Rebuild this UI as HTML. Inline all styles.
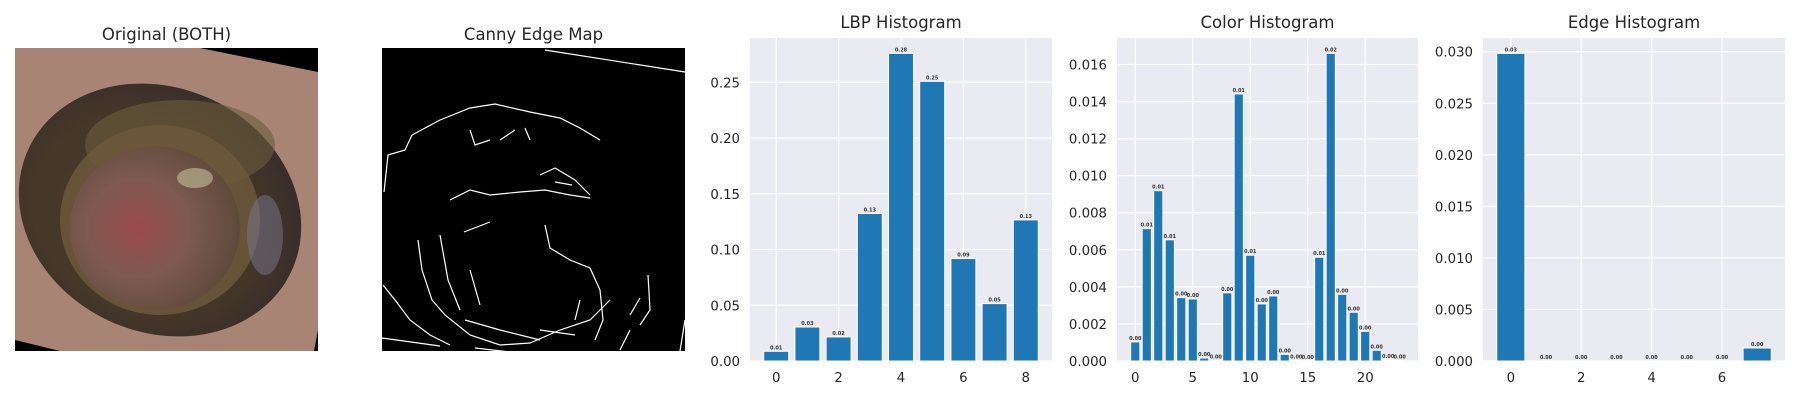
<!DOCTYPE html>
<html><head><meta charset="utf-8">
<style>
html,body{margin:0;padding:0;background:#fff;}
body{width:1800px;height:400px;overflow:hidden;font-family:"DejaVu Sans","Liberation Sans",sans-serif;}
svg text{font-family:"DejaVu Sans","Liberation Sans",sans-serif;}
</style></head>
<body>
<svg id="fig" width="1800" height="400" viewBox="0 0 1800 400" xmlns="http://www.w3.org/2000/svg">
<defs>
<radialGradient id="woundOuter" cx="0.45" cy="0.55" r="0.55">
<stop offset="0" stop-color="#4a3a2e"/><stop offset="0.7" stop-color="#453828"/><stop offset="1" stop-color="#3a2e2a"/>
</radialGradient>
<radialGradient id="woundInner" cx="0.4" cy="0.5" r="0.6">
<stop offset="0" stop-color="#9a4a4c"/><stop offset="0.5" stop-color="#7e5a50"/><stop offset="1" stop-color="#5e4a3a"/>
</radialGradient>
</defs>
<g>
<text x="166.5" y="40" font-size="16.5" fill="#262626" text-anchor="middle">Original (BOTH)</text>
<rect x="15" y="48" width="303" height="303" fill="#a88474"/>
<polygon points="200,48 318,48 318,72" fill="#000"/>
<polygon points="15,340 15,351 60,351" fill="#000"/>
<polygon points="314,351 318,351 318,330" fill="#000"/>
<ellipse cx="160" cy="210" rx="145" ry="122" fill="url(#woundOuter)" transform="rotate(25 160 210)"/>
<ellipse cx="180" cy="145" rx="95" ry="45" fill="#6a5e3c" opacity="0.6"/>
<ellipse cx="160" cy="220" rx="100" ry="95" fill="#6e5a3c" opacity="0.8"/>
<ellipse cx="155" cy="228" rx="85" ry="82" fill="url(#woundInner)"/>
<ellipse cx="195" cy="178" rx="18" ry="10" fill="#b8b090" opacity="0.7"/>
<ellipse cx="265" cy="235" rx="18" ry="40" fill="#7a7890" opacity="0.5"/>
</g>
<g>
<text x="533.5" y="40" font-size="16.5" fill="#262626" text-anchor="middle">Canny Edge Map</text>
<rect x="382" y="48" width="303" height="303" fill="#000"/>
<g fill="none" stroke="#fff" stroke-width="1.2">
<path d="M545,50 L685,72"/>
<path d="M382,338 L440,346"/>
<path d="M685,320 L680,351"/>
<path d="M384,192 L388,155 L405,150 L412,135 L440,120 L470,108 L495,104 L530,112 L560,118 L580,128 L600,140"/>
<path d="M470,130 L475,145 L490,140 M500,140 L515,130 M525,128 L530,140"/>
<path d="M450,200 L470,190 L490,195 L520,192 L545,190 L570,195 L590,198"/>
<path d="M540,175 L555,168 L575,180 L590,195 M555,182 L572,185"/>
<path d="M464,232 L490,222 M545,225 L550,248 L570,260 L590,268 L600,290 L603,320 L595,340"/>
<path d="M418,240 L422,270 L432,300 L445,315 L470,335 L500,345 L530,343 L560,330 L590,320 L610,300"/>
<path d="M440,235 L448,280 L460,310 M470,270 L480,305"/>
<path d="M465,320 L500,330 L540,340 M475,348 L510,352 M540,330 L575,335"/>
<path d="M383,285 L395,300 L410,320 L430,335 L450,345"/>
<path d="M648,275 L650,310 L640,325 M630,330 L620,350"/>
<path d="M640,298 L630,315 M580,300 L575,320"/>
</g>
</g>
<g id="charts"></g>
</svg>
<script>
// LBP histogram data
const lbpCategories = [0,1,2,3,4,5,6,7,8];
const lbpValues = [0.0087,0.0305,0.0216,0.1323,0.2760,0.2509,0.0919,0.0515,0.1266];
const lbpYTicks = [0,0.05,0.10,0.15,0.20,0.25];
const lbpYTickLabels = ["0.00","0.05","0.10","0.15","0.20","0.25"];
const lbpXTicks = [0,2,4,6,8];
// Color histogram data
const colorCategories = [0,1,2,3,4,5,6,7,8,9,10,11,12,13,14,15,16,17,18,19,20,21,22,23];
const colorValues = [0.00103,0.00714,0.00919,0.00654,0.00342,0.00335,0.00016,0.00002,0.00368,0.01441,0.00571,0.00308,0.00351,0.00036,0.00002,0.00001,0.0056,0.0166,0.0036,0.00263,0.0016,0.00058,0.00005,0.00002];
const colorYTicks = [0,0.002,0.004,0.006,0.008,0.010,0.012,0.014,0.016];
const colorYTickLabels = ["0.000","0.002","0.004","0.006","0.008","0.010","0.012","0.014","0.016"];
const colorXTicks = [0,5,10,15,20];
// Edge histogram data
const edgeCategories = [0,1,2,3,4,5,6,7];
const edgeValues = [0.02984,0,0,0,0,0,0,0.00126];
const edgeYTicks = [0,0.005,0.010,0.015,0.020,0.025,0.030];
const edgeYTickLabels = ["0.000","0.005","0.010","0.015","0.020","0.025","0.030"];
const edgeXTicks = [0,2,4,6];

const NS = "http://www.w3.org/2000/svg";
function mk(tag, attrs, parent){
  const e = document.createElementNS(NS, tag);
  for (const k in attrs) e.setAttribute(k, attrs[k]);
  parent.appendChild(e);
  return e;
}
function drawChart(cfg){
  const root = document.getElementById('charts');
  const g = mk('g', {}, root);
  
  
  const L = cfg.left, R = cfg.right, T = 38, B = 361;
  const n = cfg.cats.length;
  const span = (n - 1) + 0.8;
  const xmin = -0.4 - span * 0.05, xmax = (n - 1) + 0.4 + span * 0.05;
  const maxV = Math.max(...cfg.vals);
  const ymax = maxV * 1.05;
  const xs = v => L + (v - xmin) / (xmax - xmin) * (R - L);
  const ys = v => B - v / ymax * (B - T);
  const bg = mk('rect', {x:L, y:T, width:R-L, height:B-T, fill:'#eaeaf2'}, g);
  
  
  cfg.yTicks.forEach((t, i) => {
    const y = ys(t);
    const gl = mk('line', {x1:L, x2:R, y1:y, y2:y, stroke:'#fff', 'stroke-width':1.2}, g);
    
    
    const tl = mk('text', {x:L-10, y:y+5, 'font-size':13.3, fill:'#262626', 'text-anchor':'end'}, g);
    
    
    tl.textContent = cfg.yLabels[i];
  });
  cfg.xTicks.forEach(t => {
    const x = xs(t);
    const gl = mk('line', {x1:x, x2:x, y1:T, y2:B, stroke:'#fff', 'stroke-width':1.2}, g);
    
    
    const tl = mk('text', {x:x, y:382, 'font-size':13.3, fill:'#262626', 'text-anchor':'middle'}, g);
    
    
    tl.textContent = String(t);
  });
  cfg.cats.forEach((c, i) => {
    const v = cfg.vals[i];
    const x0 = xs(c - 0.4), x1 = xs(c + 0.4);
    const y = ys(v);
    const bar = mk('rect', {x:x0, y:y, width:x1-x0, height:Math.max(B-y,0), fill:'#1f77b4', stroke:'#fff', 'stroke-width':1}, g);
    
    
    const lb = mk('text', {x:(x0+x1)/2, y:y-2, 'font-size':5, 'font-weight':'bold', fill:'#333', 'text-anchor':'middle'}, g);
    
    
    lb.textContent = v.toFixed(2);
  });
  const title = mk('text', {x:(L+R)/2, y:28, 'font-size':16.5, fill:'#262626', 'text-anchor':'middle'}, g);
  
  
  title.textContent = cfg.title;
}
drawChart({name:'lbp-histogram', title:'LBP Histogram', left:750, right:1052, cats:lbpCategories, vals:lbpValues, yTicks:lbpYTicks, yLabels:lbpYTickLabels, xTicks:lbpXTicks});
drawChart({name:'color-histogram', title:'Color Histogram', left:1117, right:1418, cats:colorCategories, vals:colorValues, yTicks:colorYTicks, yLabels:colorYTickLabels, xTicks:colorXTicks});
drawChart({name:'edge-histogram', title:'Edge Histogram', left:1483, right:1785, cats:edgeCategories, vals:edgeValues, yTicks:edgeYTicks, yLabels:edgeYTickLabels, xTicks:edgeXTicks});
</script>
</body></html>
